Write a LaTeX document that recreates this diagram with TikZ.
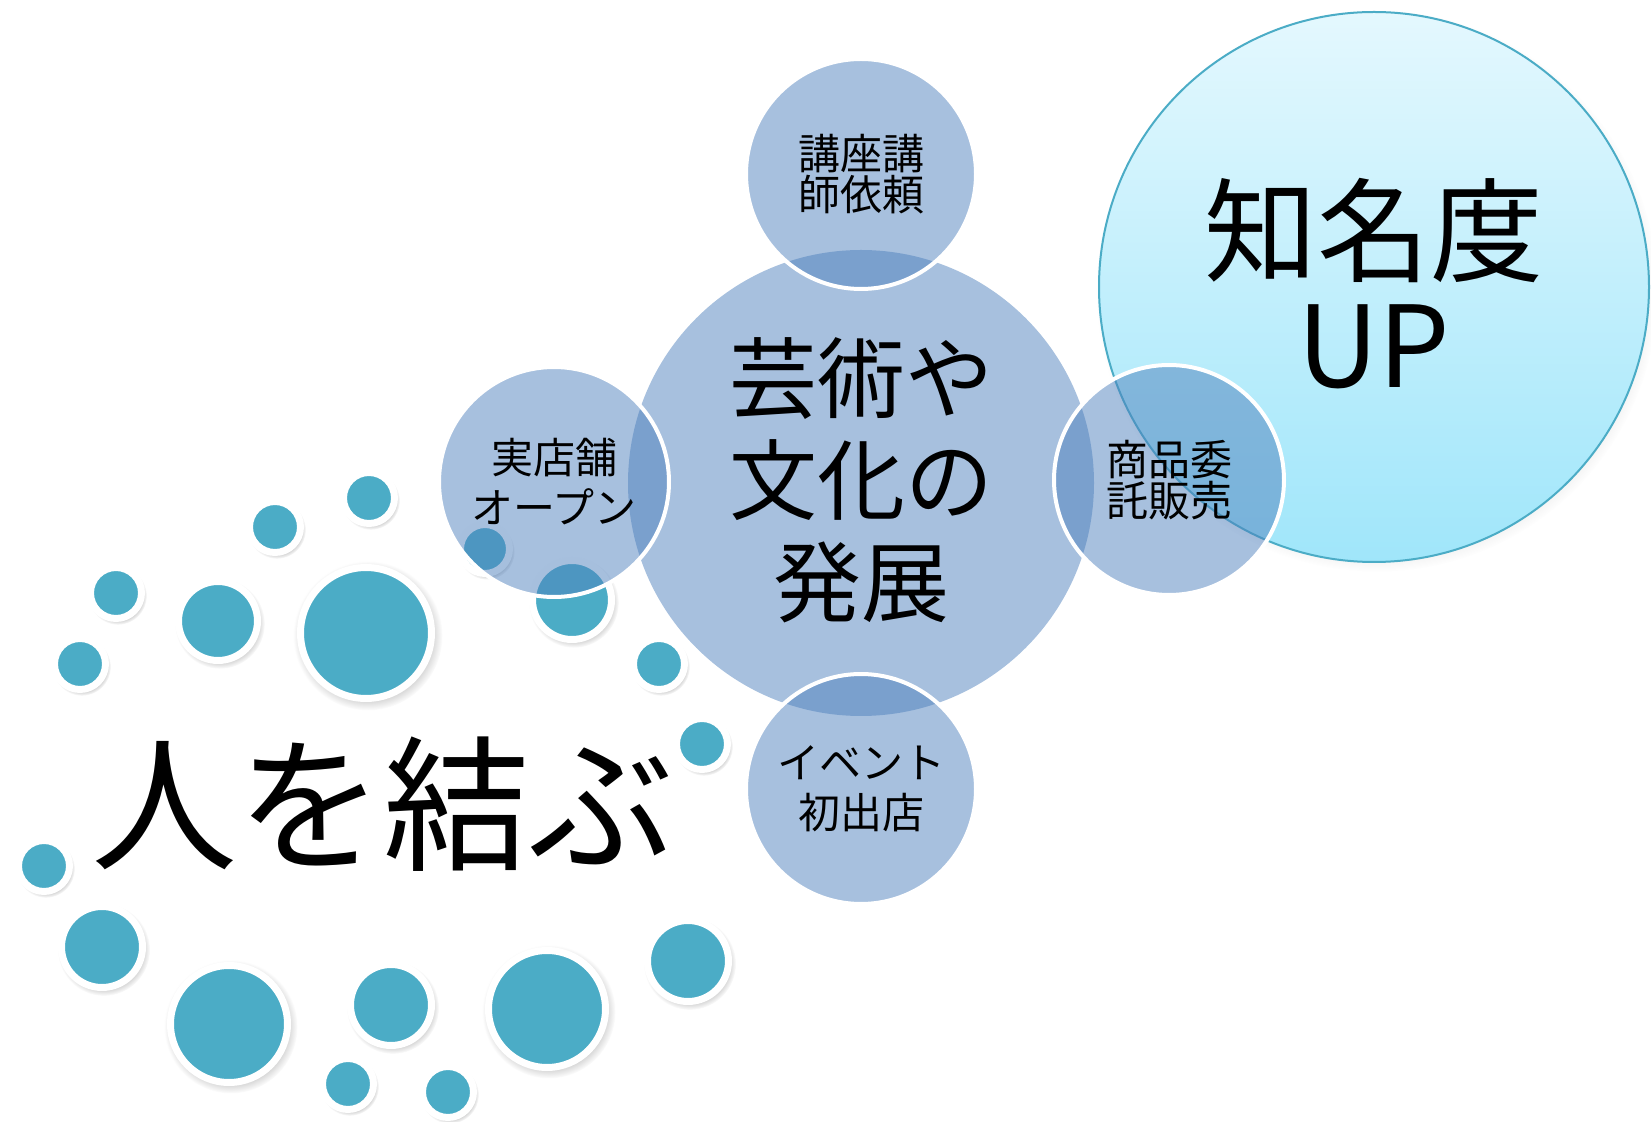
\documentclass[tikz,border=0pt]{standalone}
\usepackage{fontspec}
\newfontfamily\jpfont{Noto Sans CJK JP}
\usetikzlibrary{shadows}

\definecolor{dotteal}{HTML}{4BACC6}
\definecolor{bubbleblue}{HTML}{4F81BD}
\definecolor{skytop}{HTML}{E4F8FE}
\definecolor{skybottom}{HTML}{A0E6FA}

\tikzset{
    dot/.style = {circle, inner sep = 0pt, fill = dotteal, draw = white, line width = 3.5pt,
        circular drop shadow = {shadow xshift = 0.8pt, shadow yshift = -1.2pt, shadow scale = 1.14, opacity = 0.35}},
    bubble/.style = {circle, inner sep = 0pt, minimum size = 115pt, fill = bubbleblue, fill opacity = 0.5,
        text opacity = 1, draw = white, line width = 2pt, align = center,
        font = \jpfont\fontsize{21}{20.5}\selectfont},
    kana/.style = {font = \jpfont\fontsize{21}{25}\selectfont},
    hub/.style = {circle, inner sep = 0pt, minimum size = 233pt, fill = bubbleblue, fill opacity = 0.5,
        text opacity = 1, align = center, font = \jpfont\fontsize{44}{51}\selectfont},
    fame/.style = {circle, inner sep = 0pt, minimum size = 275pt, top color = skytop, bottom color = skybottom,
        draw = dotteal, line width = 1pt, align = center, font = \jpfont\fontsize{56.5}{57}\selectfont,
        circular drop shadow = {shadow xshift = 1.5pt, shadow yshift = -2pt, shadow scale = 1.02, opacity = 0.3}}
}

\begin{document}
\begin{tikzpicture}[x = 0.5pt, y = -0.5pt]
        \useasboundingbox (0,0) rectangle (1651,1122);

        \foreach \px/\py/\r [count = \i] in {
            369/498/22, 275/527/22, 116/593/22, 218/621/36, 366/633/62, 80/664/22,
            485/549/21, 572/600/36, 659/664/22, 702/744/22, 44/866/22, 102/947/37,
            229/1024/55, 391/1005/37, 547/1009/55, 688/961/37, 348/1084/22, 448/1092/22}
            \node[dot, minimum size = \r pt + 3.5pt] (dot\i) at (\px,\py) {};

        \node[font = \jpfont\fontsize{73}{80}\selectfont] (musubu) at (383,804) {人を結ぶ};

        \node[hub, text depth = 6pt] (geijutsu) at (861,483) {芸術や\\文化の\\発展};
        \node[fame, text depth = 4pt] (chimeido) at (1374,287) {知名度\\UP};

        \node[bubble] (koza) at (861,174) {講座講\\師依頼};
        \node[bubble, kana] (tenpo) at (554,482) {実店舗\\オープン};
        \node[bubble] (itaku) at (1169,480) {商品委\\託販売};
        \node[bubble, kana] (event) at (861,789) {イベント\\初出店};
    \end{tikzpicture}
\end{document}
